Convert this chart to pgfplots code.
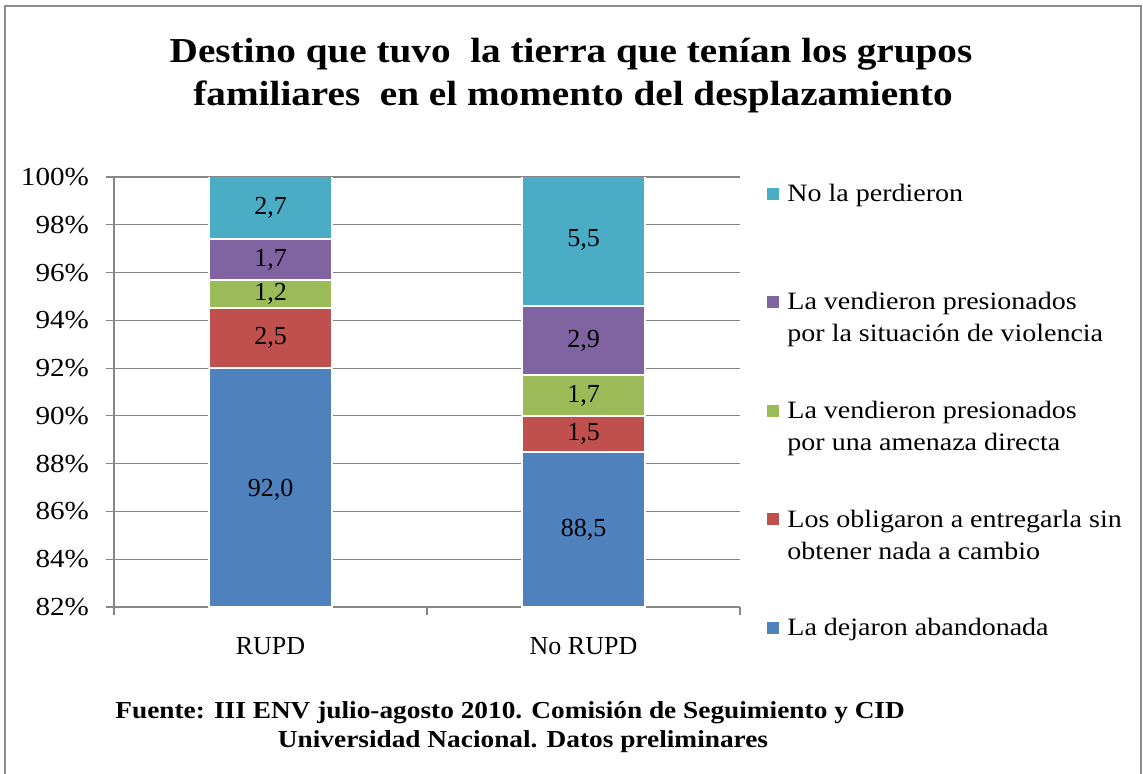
\documentclass[border=0pt]{standalone}
\usepackage{fontspec}
\setmainfont{Liberation Serif}[FakeStretch=1.12]
\newfontfamily\plainfont{Liberation Serif}
\usepackage{pgfplots}
\pgfplotsset{compat=1.18}
\definecolor{cBlue}{HTML}{4F81BD}
\definecolor{cRed}{HTML}{C0504D}
\definecolor{cGreen}{HTML}{9BBB59}
\definecolor{cPurple}{HTML}{8064A2}
\definecolor{cCyan}{HTML}{4BACC6}
\definecolor{gridgray}{HTML}{868686}
\definecolor{framegray}{HTML}{8C8C8C}

\pgfplotsset{
  sqlegend/.style={legend image code/.code={\path (0pt,0pt) -- (9.5pt,0pt);\fill[##1,draw=none] (0pt,0.8pt) rectangle (6pt,6.8pt);}},
  segbar/.style={fill=#1, draw=white, line width=1pt, sqlegend},
}

\begin{document}
\begin{tikzpicture}
\path[use as bounding box] (0,0) rectangle (571.5pt,386.5pt);
\draw[framegray, line width=1.2pt] (2.5pt,-2pt) -- (2.5pt,383.5pt) -- (570.5pt,383.5pt) -- (570.5pt,-2pt);
\node[anchor=base, inner sep=0pt, font=\fontsize{17.5}{20}\selectfont\bfseries] at (285.5pt,355.5pt) {Destino que tuvo\ \ la tierra que tenían los grupos};
\node[anchor=base, inner sep=0pt, font=\fontsize{17.5}{20}\selectfont\bfseries] at (286.5pt,334pt) {familiares\ \ en el momento del desplazamiento};

\begin{axis}[
  at={(57pt,83pt)}, anchor=south west,
  scale only axis, width=313pt, height=215pt,
  ybar stacked, bar width=61.5pt,
  xmin=-0.5, xmax=1.5, ymin=82, ymax=100,
  xtick={-0.5,0.5,1.5}, xticklabels={RUPD, No RUPD, {}},
  x tick label as interval,
  xticklabel style={font=\plainfont\fontsize{13}{15}\selectfont, yshift=-7.5pt},
  ytick={82,84,...,100},
  yticklabel={\pgfmathprintnumber{\tick}\%},
  yticklabel style={font=\fontsize{13}{15}\selectfont, xshift=-5pt},
  /pgf/number format/assume math mode=true,
  ymajorgrids, grid style={gridgray, line width=0.6pt},
  axis lines*=left, axis line style={gridgray, line width=0.8pt, -},
  tick align=outside, major tick length=4pt, tick style={gridgray, line width=0.6pt},
  reverse legend,
  legend cell align=left,
  legend style={at={(1.032,1.006)}, anchor=north west, draw=none, fill=none,
    font=\fontsize{12.5}{16}\selectfont, row sep=41.6pt, cells={anchor=base west},
    nodes={inner sep=0pt},
    /tikz/every even column/.append style={column sep=0pt}},
]
\addplot[segbar=cBlue]   coordinates {(0,92.0) (1,88.5)};
\addplot[segbar=cRed]    coordinates {(0,2.5) (1,1.5)};
\addplot[segbar=cGreen]  coordinates {(0,1.2) (1,1.7)};
\addplot[segbar=cPurple] coordinates {(0,1.7) (1,2.9)};
\addplot[segbar=cCyan]   coordinates {(0,2.7) (1,5.5)};
\addlegendentry{\begin{tabular}[t]{@{}l@{}}La dejaron abandonada\end{tabular}}
\addlegendentry{\begin{tabular}[t]{@{}l@{}}Los obligaron a entregarla sin\\obtener nada a cambio\end{tabular}}
\addlegendentry{\begin{tabular}[t]{@{}l@{}}La vendieron presionados\\por una amenaza directa\end{tabular}}
\addlegendentry{\begin{tabular}[t]{@{}l@{}}La vendieron presionados\\por la situación de violencia\end{tabular}}
\addlegendentry{\begin{tabular}[t]{@{}l@{}}No la perdieron\end{tabular}}
\end{axis}

% data labels, at the middle of the visible part of each segment
\begin{axis}[
  at={(57pt,83pt)}, anchor=south west,
  scale only axis, width=313pt, height=215pt,
  xmin=-0.5, xmax=1.5, ymin=82, ymax=100,
  hide axis,
]
\addplot[only marks, mark=none, point meta=explicit symbolic,
  nodes near coords,
  nodes near coords style={anchor=center, font=\plainfont\fontsize{13}{15}\selectfont, text=black}]
  coordinates {
    (0,86.9)  [92,0]  (1,85.25) [88,5]
    (0,93.25) [2,5]   (1,89.25) [1,5]
    (0,95.1)  [1,2]   (1,90.85) [1,7]
    (0,96.55) [1,7]   (1,93.15) [2,9]
    (0,98.7)  [2,7]   (1,97.35) [5,5]
  };
\end{axis}

\node[anchor=base west, inner sep=0pt, font=\fontsize{12.2}{14}\selectfont\bfseries] at (57.5pt,27.5pt) {Fuente: III ENV julio-agosto 2010. Comisión de Seguimiento y CID};
\node[anchor=base, inner sep=0pt, font=\fontsize{12.2}{14}\selectfont\bfseries] at (261.5pt,13pt) {Universidad Nacional. Datos preliminares};
\end{tikzpicture}
\end{document}
